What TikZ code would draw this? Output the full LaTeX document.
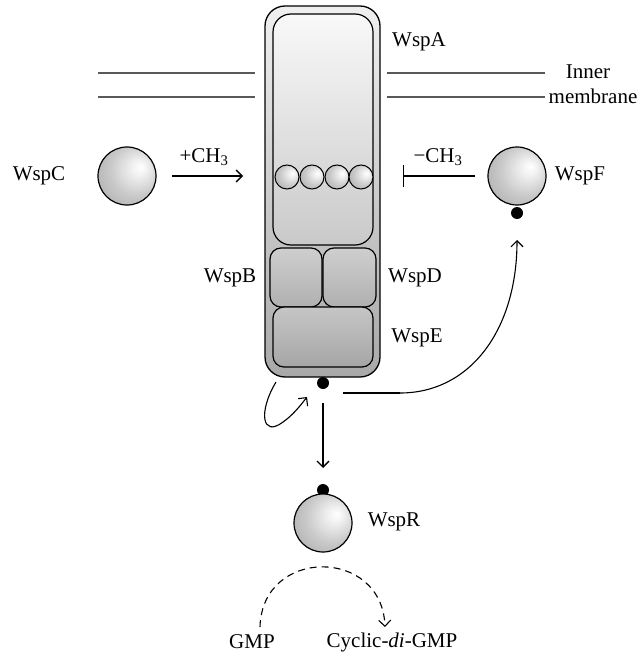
\documentclass[tikz,border=0pt]{standalone}
\usepackage{fontspec}
\setmainfont{Liberation Serif}
\usetikzlibrary{arrows.meta}
\pgfdeclareradialshading{sphere}{\pgfpoint{12bp}{8bp}}{color(0bp)=(white); color(6bp)=(gray!10); color(22bp)=(gray!42); color(40bp)=(gray!68); color(60bp)=(gray!85)}
\begin{document}
\begin{tikzpicture}[x=1pt,y=-1pt,
  ball/.style={circle, draw=black, line width=1.2pt, shading=sphere, minimum size=58pt, inner sep=0pt},
  sball/.style={circle, draw=black, line width=1pt, shading=sphere, minimum size=24pt, inner sep=0pt},
  dot/.style={circle, fill=black, minimum size=12pt, inner sep=0pt},
  lbl/.style={font=\fontsize{21}{24}\selectfont, inner sep=0pt},
  memb/.style={draw=black!65, line width=1.5pt},
  conn/.style={line width=1.3pt, -{Straight Barb[length=6pt,width=12pt]}},
  dombox/.style={draw=black, line width=1.2pt, rounded corners=11pt, inner sep=0pt}
]
\useasboundingbox (0,0) rectangle (638,655);
% membrane
\draw[memb] (98,73) -- (255,73);
\draw[memb] (98,97) -- (255,97);
\draw[memb] (387,73) -- (545,73);
\draw[memb] (387,97) -- (545,97);
\node[lbl] (inner) at (588,72) {Inner};
\node[lbl] (membrane) at (593,96) {membrane};
% receptor body
\node[draw=black, line width=1.3pt, rounded corners=20pt, minimum width=115pt, minimum height=371pt, inner sep=0pt,
  top color=gray!12, bottom color=gray!68] (body) at (322.5,191.5) {};
\node[dombox, rounded corners=18pt, minimum width=100pt, minimum height=231pt, top color=gray!5, bottom color=gray!42] (wspA) at (323,129.5) {};
\node[sball] (m1) at (287,177) {};
\node[sball] (m2) at (312,177) {};
\node[sball] (m3) at (337,177) {};
\node[sball] (m4) at (361,177) {};
\node[dombox, minimum width=52pt, minimum height=59pt, top color=gray!38, bottom color=gray!62] (wspB) at (296,277.5) {};
\node[dombox, minimum width=53pt, minimum height=59pt, top color=gray!38, bottom color=gray!62] (wspD) at (349.5,277.5) {};
\node[dombox, minimum width=100pt, minimum height=60pt, top color=gray!45, bottom color=gray!70] (wspE) at (323,337) {};
\node[dot] (bdot) at (323,383) {};
% labels
\node[lbl] (lA) at (419,42) {WspA};
\node[lbl] (lB) at (230,278) {WspB};
\node[lbl] (lD) at (415,278) {WspD};
\node[lbl] (lE) at (417,338) {WspE};
% WspC
\node[ball] (wspC) at (127,176) {};
\node[lbl] (lC) at (39,176) {WspC};
\coordinate (cS) at (172,176);
\coordinate (cE) at (243,176);
\draw[conn] (cS) -- (cE);
\node[lbl] (plus) at (204,157) {+CH\textsubscript{3}};
% WspF
\node[ball] (wspF) at (517,176) {};
\node[dot] (fdot) at (517,213) {};
\node[lbl] (lF) at (580,176) {WspF};
\coordinate (fS) at (475,176);
\coordinate (fE) at (403,176);
\draw[line width=1.3pt, -{Bar[width=21pt,line width=1.3pt]}] (fS) -- (fE);
\node[lbl] (minus) at (438,157) {−CH\textsubscript{3}};
% connectors from body
\coordinate (loopS) at (276,382);
\coordinate (loopE) at (307,397);
\draw[line width=1.1pt, -{Straight Barb[length=6pt,width=12pt]}] (loopS) .. controls (258,412) and (262,438) .. (283,422) .. controls (293,415) and (300,406) .. (loopE);
\coordinate (pS) at (343,393);
\coordinate (pM) at (400,393);
\coordinate (pE) at (517,240);
\draw[line width=1.1pt] (pS) -- (pM);
\draw[line width=1.1pt, -{Straight Barb[length=6pt,width=12pt]}] (pM) .. controls (470,393) and (517,330) .. (pE);
% WspR
\node[dot] (rdot) at (323,490) {};
\node[ball] (wspR) at (323,523) {};
\node[lbl] (lR) at (394,522) {WspR};
\coordinate (dS) at (323,403);
\coordinate (dE) at (323,468);
\draw[conn] (dS) -- (dE);
% GMP
\node[lbl] (gmp) at (252,642) {GMP};
\node[lbl] (cdg) at (392,642) {Cyclic-\textit{di}-GMP};
\coordinate (gS) at (260,627);
\coordinate (gE) at (385,627);
\draw[line width=1.1pt, dashed, dash pattern=on 7pt off 5pt, -{Straight Barb[length=6pt,width=12pt]}] (gS) .. controls (262,547) and (382,547) .. (gE);
\end{tikzpicture}
\end{document}
